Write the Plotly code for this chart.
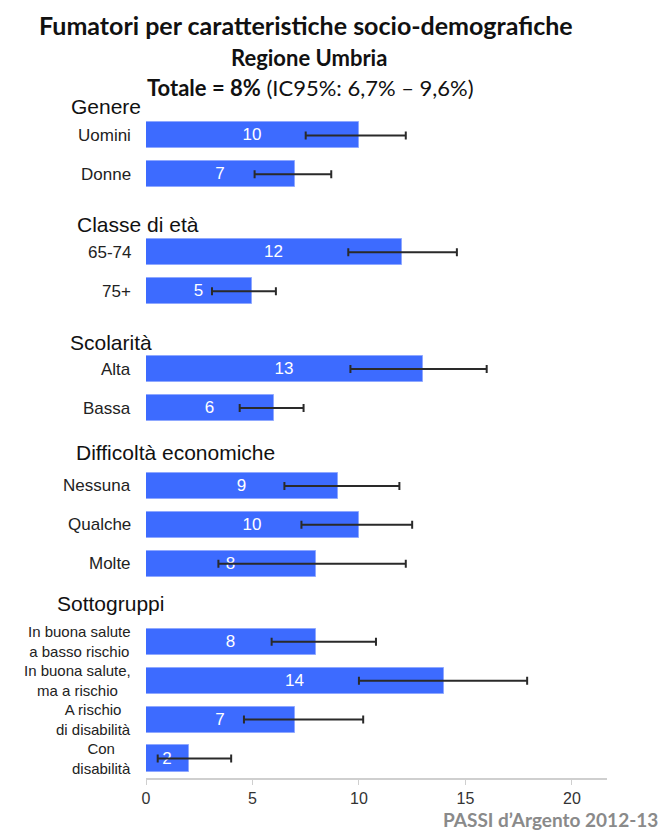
import plotly.graph_objects as go

# ---- data ----
groups = ["Genere", "Classe di età", "Scolarità", "Difficoltà economiche", "Sottogruppi"]
group_sizes = [2, 2, 2, 3, 4]
categories = ["Uomini", "Donne", "65-74", "75+", "Alta", "Bassa",
              "Nessuna", "Qualche", "Molte",
              "In buona salute<br>a basso rischio", "In buona salute,<br>ma a rischio",
              "A rischio<br>di disabilità", "Con<br>disabilità"]
values = [10, 7, 12, 5, 13, 6, 9, 10, 8, 8, 14, 7, 2]
ci_low = [7.5, 5.1, 9.5, 3.1, 9.6, 4.4, 6.5, 7.3, 3.4, 5.9, 10.0, 4.6, 0.55]
ci_high = [12.2, 8.7, 14.6, 6.1, 16.0, 7.4, 11.9, 12.5, 12.2, 10.8, 17.9, 10.2, 4.0]
x_ticks = [0, 5, 10, 15, 20]

# slot positions: one empty slot between groups
ypos = []
header_slot = []
slot = 0
for gi, n in enumerate(group_sizes):
    if gi > 0:
        slot += 1
    header_slot.append(slot - 0.75 if gi == 0 else slot - 0.8)
    for k in range(n):
        ypos.append(slot)
        slot += 1
header_offsets = [0.0, 0.1, 0.12, -0.05, -0.17]
header_x_px = [69, 75, 68, 74, 55]

L, R, T, B = 146, 55, 77, 52
W, H = 662, 830
pw = W - L - R
ph = H - T - B

fig = go.Figure()
fig.add_trace(go.Bar(
    x=values, y=ypos, orientation="h", width=0.67,
    marker=dict(color="#3D6BFF", line=dict(color="#8FA8FF", width=1)),
    text=[str(v) for v in values], textposition="inside", insidetextanchor="middle",
    textfont=dict(family="Liberation Sans, Arial", size=17, color="white"),
    error_x=dict(type="data", symmetric=False,
                 array=[h - v for h, v in zip(ci_high, values)],
                 arrayminus=[v - l for l, v in zip(ci_low, values)],
                 color="#2a2a2a", thickness=2, width=4),
    hoverinfo="skip", showlegend=False,
))

annotations = []
# category labels
for c, y in zip(categories, ypos):
    multi = "<br>" in c
    annotations.append(dict(
        x=0, y=y, xref="x", yref="y", text=c, showarrow=False,
        xanchor="right", yanchor="middle", xshift=-13, align="center",
        font=dict(family="Liberation Sans Narrow, Liberation Sans, Arial",
                  size=15 if multi else 17, color="#222"),
    ))
# group headers
for g, s, off, px in zip(groups, header_slot, header_offsets, header_x_px):
    annotations.append(dict(
        x=(px - L) / pw, y=s + off, xref="paper", yref="y", text=g, showarrow=False,
        xanchor="left", yanchor="middle",
        font=dict(family="Liberation Sans, Arial", size=21, color="#111"),
    ))


def px2paper(px_x, px_y):
    return (px_x - L) / pw, (H - B - px_y) / ph


titles = [
    (306, 25, "center", "<b>Fumatori per caratteristiche socio-demografiche</b>", 25, "#111"),
    (309, 57, "center", "<b>Regione Umbria</b>", 22, "#111"),
    (310, 88, "center", "<b>Totale = 8%</b> (IC95%: 6,7% – 9,6%)", 22, "#111"),
    (660, 819, "right", "<b>PASSI d’Argento 2012-13</b>", 19, "#8a8a8a"),
]
for tx, ty, anc, txt, sz, col in titles:
    ax, ay = px2paper(tx, ty)
    annotations.append(dict(
        x=ax, y=ay, xref="paper", yref="paper", xanchor=anc, yanchor="middle",
        text=txt, showarrow=False, font=dict(family="Lato", size=sz, color=col)))

fig.update_layout(
    width=W, height=H,
    margin=dict(l=L, r=R, t=T, b=B),
    paper_bgcolor="white", plot_bgcolor="white",
    annotations=annotations,
    xaxis=dict(range=[0, 21.65], tickvals=x_ticks, ticktext=[str(t) for t in x_ticks],
               showgrid=False, zeroline=False, showline=True, linecolor="#cfcfcf", linewidth=1.5,
               ticks="outside", ticklen=5, tickcolor="#cfcfcf",
               tickfont=dict(family="Liberation Sans, Arial", size=16, color="#333")),
    yaxis=dict(range=[16.5, -1.5], showticklabels=False, showgrid=False, zeroline=False,
               showline=False, ticks=""),
    bargap=0,
)

fig.write_html("out.html", config={"displayModeBar": False},
               post_script="document.body.style.margin='0';document.body.style.overflow='hidden';")
